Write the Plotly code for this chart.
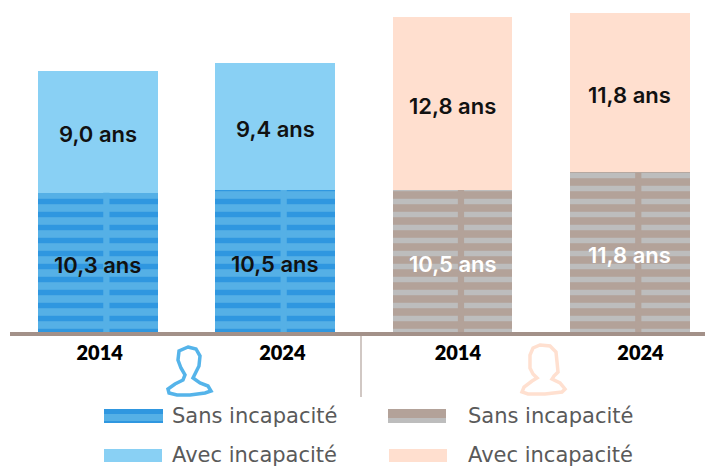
import plotly.graph_objects as go

# Data
years = ['2014', '2024', '2014', '2024']
sans = [10.3, 10.5, 10.5, 11.8]
avec = [9.0, 9.4, 12.8, 11.8]
labels_sans = ['10,3 ans', '10,5 ans', '10,5 ans', '11,8 ans']
labels_avec = ['9,0 ans', '9,4 ans', '12,8 ans', '11,8 ans']

colors_sans = ['#55b0e6', '#55b0e6', '#b3a299', '#b3a299']
colors_avec = ['#89d0f4', '#89d0f4', '#ffdfcf', '#ffdfcf']
text_sans = ['#111111', '#111111', '#ffffff', '#ffffff']

W, H = 705, 466
LEFT, BASE = 10, 332
PLOT_W = W - LEFT
FONT = 'Inter'
BROWN = '#a39189'

idx = list(range(len(years)))


# page pixel -> paper position, for the hand drawn bits under the chart
def px(x):
    return (x - LEFT) / PLOT_W


def py(y):
    return (BASE - y) / BASE


def path(points):
    return 'M' + ' L'.join(f'{px(x):.4f},{py(y):.4f}' for x, y in points) + ' Z'


fig = go.Figure()

# striped part, one trace per group because the stripe colour only works as a single value
fig.add_trace(go.Bar(x=idx[:2], y=sans[:2], width=0.674, showlegend=False,
                     marker=dict(color='#55b0e6', line_width=0,
                                 pattern=dict(shape='-', size=13, solidity=0.42, fgcolor='#2f97e0',
                                              fgopacity=1, fillmode='overlay'))))
fig.add_trace(go.Bar(x=idx[2:], y=sans[2:], width=0.674, showlegend=False,
                     marker=dict(color='#b3a299', line_width=0,
                                 pattern=dict(shape='-', size=13, solidity=0.42, fgcolor='#bdbdbd',
                                              fgopacity=1, fillmode='overlay'))))
fig.add_trace(go.Bar(x=idx, y=avec, width=0.674, showlegend=False,
                     marker=dict(color=colors_avec, line_width=0)))

annotations = []
for i in idx:
    annotations.append(dict(x=i, y=sans[i] / 2, text=labels_sans[i], showarrow=False, yshift=-3,
                            font=dict(family=FONT, size=22, weight=600, color=text_sans[i])))
    annotations.append(dict(x=i, y=sans[i] + avec[i] / 2, text=labels_avec[i], showarrow=False, yshift=-2,
                            font=dict(family=FONT, size=22, weight=600, color='#111111')))

# legend, drawn by hand because of the wide swatches
legend_rows = [(px(170), py(416), 'Sans incapacité'), (px(170), py(455), 'Avec incapacité'),
               (px(466), py(416), 'Sans incapacité'), (px(466), py(455), 'Avec incapacité')]
for x, y, t in legend_rows:
    annotations.append(dict(x=x, y=y, xref='paper', yref='paper', text=t, showarrow=False,
                            xanchor='left', yanchor='middle',
                            font=dict(family='DejaVu Sans', size=21, color='#5a5a5a')))

shapes = []

# the brush strokes break a little right of the middle of each bar
for i in idx:
    shapes.append(dict(type='rect', xref='x', yref='y', x0=i + 0.03, x1=i + 0.065, y0=0, y1=sans[i],
                       fillcolor=colors_sans[i], line_width=0))


def rect(x0, y0, x1, y1, color):
    shapes.append(dict(type='rect', xref='paper', yref='paper', x0=px(x0), x1=px(x1),
                       y0=py(y0), y1=py(y1), fillcolor=color, line_width=0))


rect(104, 409, 163, 423, '#55b0e6')
rect(104, 409, 163, 414, '#2f97e0')
rect(104, 421, 163, 423, '#2f97e0')
rect(104, 449, 162, 462, '#89d0f4')
rect(388, 409, 446, 423, '#b3a299')
rect(388, 418, 446, 423, '#bdbdbd')
rect(389, 449, 447, 462, '#ffdfcf')

# divider between the two groups
shapes.append(dict(type='line', xref='paper', yref='paper', x0=px(361), x1=px(361),
                   y0=py(335), y1=py(397), line=dict(color=BROWN, width=1)))

# man and woman outlines
man = [(188, 347), (196, 349), (200, 356), (199, 366), (196, 372), (193, 378), (200, 383), (208, 386),
       (211, 391), (205, 393), (190, 395), (177, 395), (169, 393), (168, 389), (175, 384), (183, 380),
       (185, 375), (181, 368), (178, 360), (179, 351)]
woman = [(540, 345), (550, 346), (556, 352), (557, 362), (558, 372), (554, 376), (552, 379), (560, 383),
         (565, 389), (562, 392), (545, 394), (528, 394), (522, 392), (524, 387), (532, 381), (537, 378),
         (533, 374), (530, 368), (530, 355), (533, 348)]
shapes.append(dict(type='path', xref='paper', yref='paper', path=path(man),
                   line=dict(color='#55b4ea', width=3.5)))
shapes.append(dict(type='path', xref='paper', yref='paper', path=path(woman),
                   line=dict(color='#ffe0d0', width=3.5)))

fig.update_layout(
    barmode='stack',
    width=W, height=H,
    margin=dict(l=LEFT, r=0, t=0, b=H - BASE, pad=0),
    paper_bgcolor='white',
    plot_bgcolor='white',
    annotations=annotations,
    shapes=shapes,
    xaxis=dict(range=[-0.496, -0.496 + PLOT_W / 177.3], tickmode='array', tickvals=[0.01, 1.04, 2.03, 3.06],
               ticktext=years, showgrid=False, zeroline=False, showline=True, linecolor=BROWN, linewidth=4,
               ticks='', tickfont=dict(family='Lato', size=20, weight=800, color='#000000')),
    yaxis=dict(range=[0, BASE / 13.52], visible=False, showgrid=False, zeroline=False),
)

# drop the page's body margin so the figure fills the window
fig.write_html('out.html', config={'displayModeBar': False},
               post_script="document.body.style.margin = '0';")
